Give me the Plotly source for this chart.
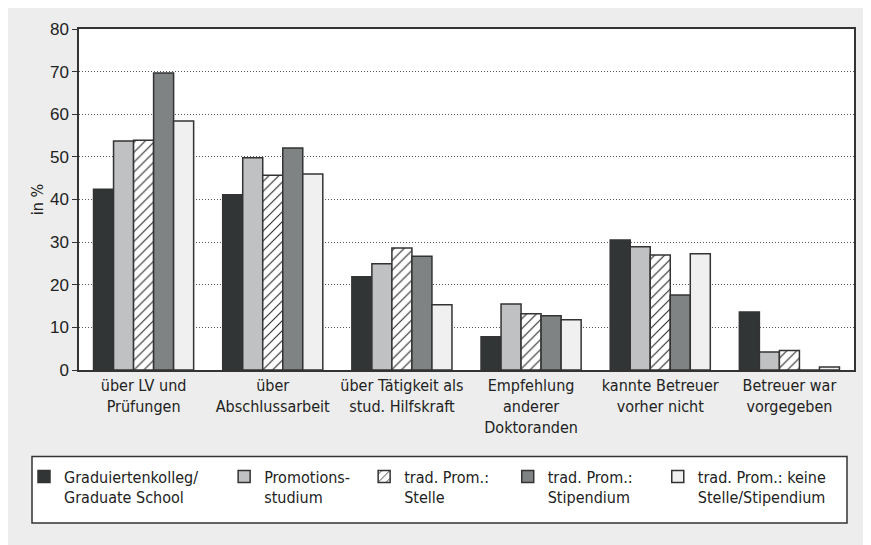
import plotly.graph_objects as go

categories = [
    "über LV und<br>Prüfungen",
    "über<br>Abschlussarbeit",
    "über Tätigkeit als<br>stud. Hilfskraft",
    "Empfehlung<br>anderer<br>Doktoranden",
    "kannte Betreuer<br>vorher nicht",
    "Betreuer war<br>vorgegeben",
]
NB = "\u00a0"
TH = "\u2009"
series_names = [
    "Graduiertenkolleg/" + NB * 4 + TH + "<br>Graduate School",
    "Promotions-" + NB * 2 + "<br>studium",
    "trad. Prom.:" + NB * 3 + "<br>Stelle",
    "trad. Prom.:<br>Stipendium" + NB * 5,
    "trad. Prom.: keine<br>Stelle/Stipendium",
]
graduiertenkolleg = [42.4, 41.1, 21.9, 7.8, 30.5, 13.6]
promotionsstudium = [53.7, 49.8, 24.9, 15.5, 28.9, 4.2]
trad_stelle = [53.9, 45.7, 28.6, 13.2, 27.0, 4.6]
trad_stipendium = [69.7, 52.1, 26.7, 12.7, 17.6, 0]
trad_keine = [58.4, 46.0, 15.3, 11.8, 27.3, 0.7]
y_ticks = [0, 10, 20, 30, 40, 50, 60, 70, 80]

values = [graduiertenkolleg, promotionsstudium, trad_stelle, trad_stipendium, trad_keine]
colors = ["#323536", "#c0c1c2", "#ffffff", "#7f8383", "#f0f0f0"]
patterns = ["", "", "/", "", ""]

NARROW = "DejaVu Sans Condensed, Liberation Sans Narrow, sans-serif"
REG = "Liberation Sans, Arial, sans-serif"

fig = go.Figure()
for name, vals, col, pat in zip(series_names, values, colors, patterns):
    marker = dict(color=col, line=dict(color="#333333", width=1.5))
    if pat:
        marker["pattern"] = dict(shape=pat, fgcolor="#222222", bgcolor="#ffffff",
                                 size=7, solidity=0.15, fillmode="replace")
    fig.add_trace(go.Bar(x=categories, y=vals, name=name, marker=marker))

# page body has an 8px offset; work in figure coordinates
W, H = 863, 537
L, R, T, B = 71, 17, 19, 175
pw, ph = W - L - R, H - T - B

def px(x):
    return (x - L) / pw

def py(y):
    return (H - B - y) / ph

fig.update_layout(
    width=W, height=H,
    margin=dict(l=L, r=R, t=T, b=B),
    paper_bgcolor="#ecedec",
    plot_bgcolor="#ffffff",
    barmode="group",
    bargap=0.225,
    bargroupgap=0,
    showlegend=True,
    legend=dict(
        orientation="h",
        x=px(16), xanchor="left",
        y=py(452), yanchor="top",
        valign="top",
        font=dict(family=NARROW, size=16, color="#222222"),
        bgcolor="rgba(0,0,0,0)",
        borderwidth=0,
        traceorder="normal",
    ),
    yaxis=dict(
        range=[0, 80],
        tickvals=y_ticks,
        showgrid=True,
        gridcolor="#555555",
        griddash="1px,2px",
        gridwidth=1,
        zeroline=False,
        showline=True,
        linecolor="#333333",
        linewidth=1.5,
        mirror=True,
        ticks="outside",
        ticklen=5,
        tickcolor="#333333",
        tickfont=dict(family=REG, size=17, color="#222222"),
        title=dict(text="in %", font=dict(family=NARROW, size=16, color="#222222"), standoff=2),
    ),
    xaxis=dict(
        showline=True,
        linecolor="#333333",
        linewidth=1.5,
        mirror=True,
        ticks="",
        tickfont=dict(family=NARROW, size=16, color="#222222"),
    ),
    shapes=[
        dict(type="rect", xref="paper", yref="paper",
             x0=px(24), x1=px(839), y0=py(449), y1=py(516),
             line=dict(color="#333333", width=1.5), fillcolor="#ffffff", layer="below"),
    ],
)

fig.write_html("out.html")
